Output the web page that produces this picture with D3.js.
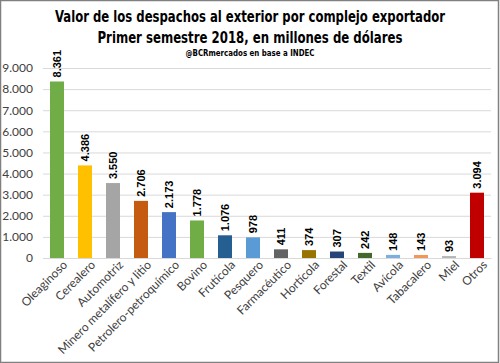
<!DOCTYPE html>
<html lang="es">
<head>
  <meta charset="UTF-8" />
  <title>Despachos por complejo exportador</title>
  <script src="https://cdn.jsdelivr.net/npm/d3@7"></script>
  <style>
    body { margin: 0; background: #fff; }
    .title { font-family: "Liberation Sans Narrow", "DejaVu Sans Condensed", sans-serif; font-weight: bold; fill: #000; }
    .tick text { font-family: Lato, "Open Sans", sans-serif; fill: #404040; }
    .val { font-family: "Liberation Sans", Arial, sans-serif; font-weight: bold; font-size: 11px; fill: #000; }
  </style>
</head>
<body>
  <svg id="chart" width="500" height="363"></svg>
  <script>
    // data
    let complejos = ["Oleaginoso", "Cerealero", "Automotriz", "Minero metalífero y litio",
      "Petrolero-petroquímico", "Bovino", "Frutícola", "Pesquero", "Farmacéutico",
      "Hortícola", "Forestal", "Textil", "Avícola", "Tabacalero", "Miel", "Otros"];
    let valores = [8361, 4386, 3550, 2706, 2173, 1778, 1076, 978, 411, 374, 307, 242, 148, 143, 93, 3094];
    let colores = ["#70ad47", "#ffc000", "#a5a5a5", "#c55a11", "#4472c4", "#70ad47", "#255e91",
      "#5b9bd5", "#636363", "#997300", "#264478", "#43682b", "#7cafdd", "#f1975a", "#b7b7b7", "#c00000"];
    let yTicks = [0, 1000, 2000, 3000, 4000, 5000, 6000, 7000, 8000, 9000];

    let es = d3.formatLocale({ decimal: ",", thousands: ".", grouping: [3], currency: ["$", ""] });
    let fmt = es.format(",.0f");

    let svg = d3.select("#chart");
    let W = 500, H = 363;
    let m = { left: 43, right: 9, top: 68, bottom: 105 };

    // frame
    svg.append("rect")
      .attr("x", 0.5).attr("y", 0.5)
      .attr("width", W - 2).attr("height", H - 1)
      .attr("fill", "#fff")
      .attr("stroke", "#808080")
      .attr("stroke-width", 1.5);

    // titles
    svg.append("text").attr("class", "title")
      .attr("x", 250).attr("y", 22)
      .attr("text-anchor", "middle")
      .style("font-size", "16px")
      .attr("textLength", 390).attr("lengthAdjust", "spacingAndGlyphs")
      .text("Valor de los despachos al exterior por complejo exportador");
    svg.append("text").attr("class", "title")
      .attr("x", 250).attr("y", 43)
      .attr("text-anchor", "middle")
      .style("font-size", "16px")
      .attr("textLength", 305).attr("lengthAdjust", "spacingAndGlyphs")
      .text("Primer semestre 2018, en millones de dólares");
    svg.append("text").attr("class", "title")
      .attr("x", 250).attr("y", 56)
      .attr("text-anchor", "middle")
      .style("font-size", "9.5px")
      .attr("textLength", 129).attr("lengthAdjust", "spacingAndGlyphs")
      .text("@BCRmercados en base a INDEC");

    let x = d3.scaleBand()
      .domain(complejos)
      .range([m.left, W - m.right])
      .paddingInner(0.5)
      .paddingOuter(0.25);

    let y = d3.scaleLinear()
      .domain([0, 9000])
      .range([H - m.bottom, m.top]);

    // gridlines + y labels
    let yAxis = svg.append("g")
      .attr("transform", "translate(" + m.left + ",0)")
      .call(d3.axisLeft(y).tickValues(yTicks).tickFormat(fmt)
        .tickSize(-(W - m.left - m.right)).tickPadding(10));
    yAxis.select(".domain").remove();
    yAxis.selectAll(".tick line").attr("stroke", "#d9d9d9");
    yAxis.selectAll(".tick text").style("font-size", "12px");

    // bars
    svg.append("g").selectAll("rect")
      .data(valores)
      .join("rect")
      .attr("x", (d, i) => x(complejos[i]))
      .attr("y", d => y(d))
      .attr("width", x.bandwidth())
      .attr("height", d => y(0) - y(d))
      .attr("fill", (d, i) => colores[i]);

    // value labels
    svg.append("g").selectAll("text")
      .data(valores)
      .join("text")
      .attr("class", "val")
      .attr("transform", (d, i) =>
        "translate(" + (x(complejos[i]) + x.bandwidth() / 2 + 4) + "," + (y(d) - 4) + ") rotate(-90)")
      .text(d => fmt(d));

    // x axis
    let xAxis = svg.append("g")
      .attr("transform", "translate(0," + (H - m.bottom) + ")")
      .call(d3.axisBottom(x).tickSize(0).tickPadding(6));
    xAxis.select(".domain").attr("stroke", "#d9d9d9");
    xAxis.selectAll(".tick text")
      .style("font-size", "12px")
      .attr("text-anchor", "end")
      .attr("dx", "0.2em")
      .attr("dy", "0.6em")
      .attr("transform", "rotate(-45)");
  </script>
</body>
</html>
